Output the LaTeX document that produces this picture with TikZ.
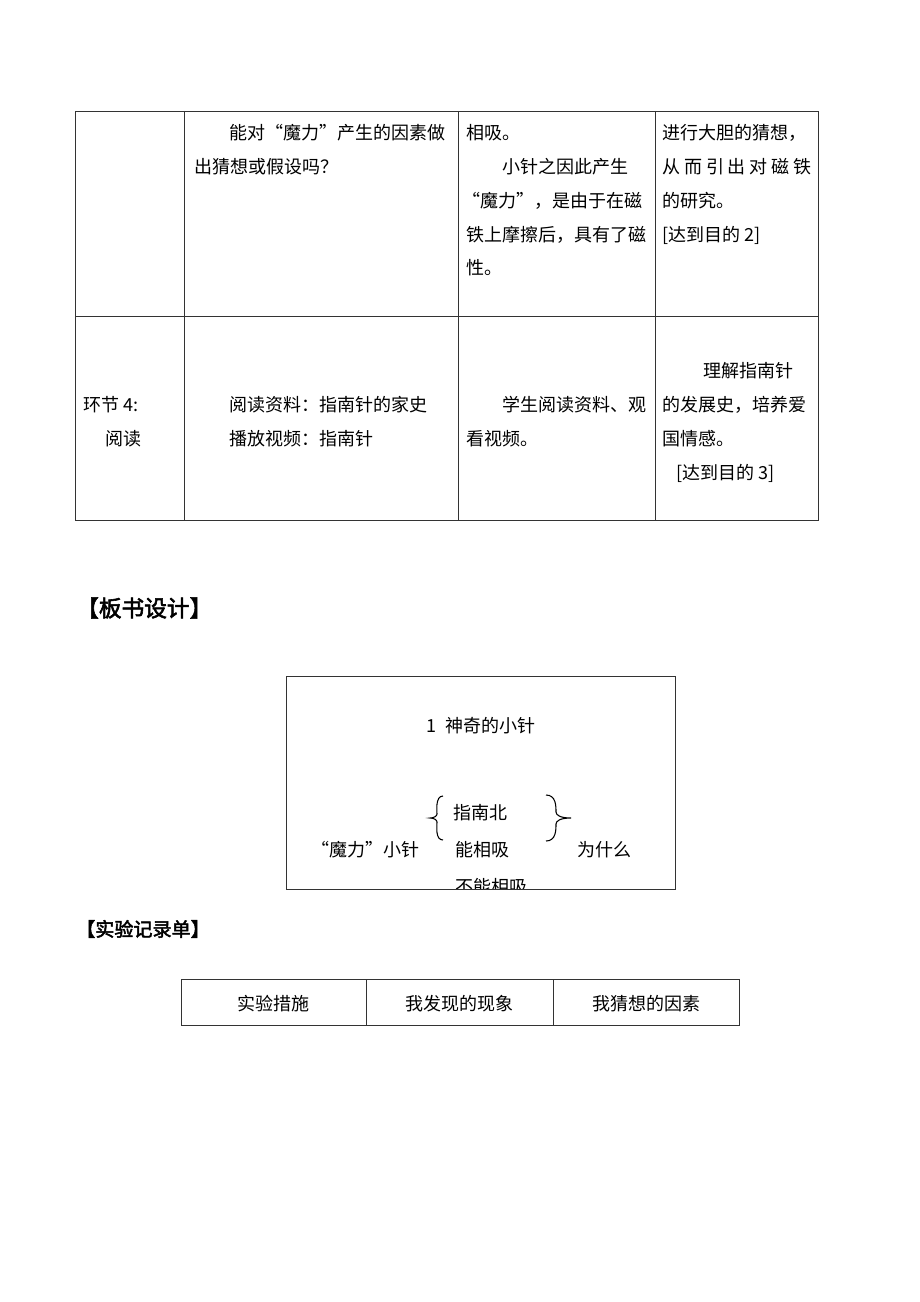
\documentclass[tikz,border=0pt]{standalone}
\usepackage{fontspec}
\setmainfont[AutoFakeBold=2.5]{Noto Sans CJK SC}
\begin{document}
\begin{tikzpicture}[x=0.75pt,y=-0.75pt,
  tl/.style={anchor=west,inner sep=0pt,font=\fontsize{13.5pt}{16pt}\selectfont},
  tc/.style={anchor=center,inner sep=0pt,font=\fontsize{13.5pt}{16pt}\selectfont},
  hd/.style={anchor=west,inner sep=0pt,font=\fontsize{17pt}{20pt}\selectfont\bfseries},
  hds/.style={anchor=west,inner sep=0pt,font=\fontsize{14.3pt}{17pt}\selectfont\bfseries},
  grid/.style={draw=black!80,line width=0.65pt}]
\useasboundingbox (0,0) rectangle (920,1302);
% main table
\draw[grid] (75,111) rectangle (818,520);
\draw[grid] (75,316) -- (818,316);
\foreach \x in {184,458,655} \draw[grid] (\x,111) -- (\x,520);
% row 1
\node[tl] (a1) at (229,133) {能对“魔力”产生的因素做};
\node[tl] (a2) at (194,167) {出猜想或假设吗？};
\node[tl] (b1) at (466,133) {相吸。};
\node[tl] (b2) at (502,167) {小针之因此产生};
\node[tl] (b3) at (462,201) {“魔力”，是由于在磁};
\node[tl] (b4) at (466,235) {铁上摩擦后，具有了磁};
\node[tl] (b5) at (466,268) {性。};
\node[tl] (c1) at (662,133) {进行大胆的猜想，};
\node[tl] (c2) at (662,167) {\hbox to 112pt{从\hfill 而\hfill 引\hfill 出\hfill 对\hfill 磁\hfill 铁}};
\node[tl] (c3) at (662,201) {的研究。};
\node[tl] (c4) at (662,235) {[达到目的 2]};
% row 2
\node[tl] (d1) at (83,405) {环节 4:};
\node[tl] (d2) at (105,439) {阅读};
\node[tl] (e1) at (229,405) {阅读资料：指南针的家史};
\node[tl] (e2) at (229,439) {播放视频：指南针};
\node[tl] (f1) at (502,405) {学生阅读资料、观};
\node[tl] (f2) at (466,439) {看视频。};
\node[tl] (g1) at (703,371) {理解指南针};
\node[tl] (g2) at (662,405) {的发展史，培养爱};
\node[tl] (g3) at (662,439) {国情感。};
\node[tl] (g4) at (676,473) {[达到目的 3]};
% board design
\node[hd] (h1) at (76,608) {【板书设计】};
\draw[grid] (286,676) rectangle (675,889);
\node[tc] (t1) at (481,726) {1\hspace{7pt}神奇的小针};
\draw[line width=0.8pt] (443,796) .. controls (435,796) and (437,812) .. (437,814)
  .. controls (437,816) and (434,818) .. (430,818)
  .. controls (434,818) and (437,820) .. (437,822)
  .. controls (437,826) and (435,840) .. (443,840);
\draw[line width=0.8pt] (546,795) .. controls (556,795) and (556,806) .. (556,812)
  .. controls (556,815) and (560,818) .. (571,818)
  .. controls (560,818) and (556,821) .. (556,824)
  .. controls (556,830) and (556,841) .. (546,841);
\node[tl] (m1) at (453,813) {指南北};
\node[tl] (m2) at (455,850) {能相吸};
\node[tl] (m0) at (311,850) {“魔力”小针};
\node[tl] (m3) at (577,850) {为什么};
\begin{scope}
\clip (287,677) rectangle (674,888);
\node[tl] (m4) at (455,887) {不能相吸};
\end{scope}
% record sheet
\node[hds] (h2) at (76,929) {【实验记录单】};
\draw[grid] (181,979) rectangle (739,1025);
\draw[grid] (366,979) -- (366,1025);
\draw[grid] (553,979) -- (553,1025);
\node[tc] (r1) at (273.5,1004) {实验措施};
\node[tc] (r2) at (459.5,1004) {我发现的现象};
\node[tc] (r3) at (646,1004) {我猜想的因素};
\end{tikzpicture}
\end{document}
